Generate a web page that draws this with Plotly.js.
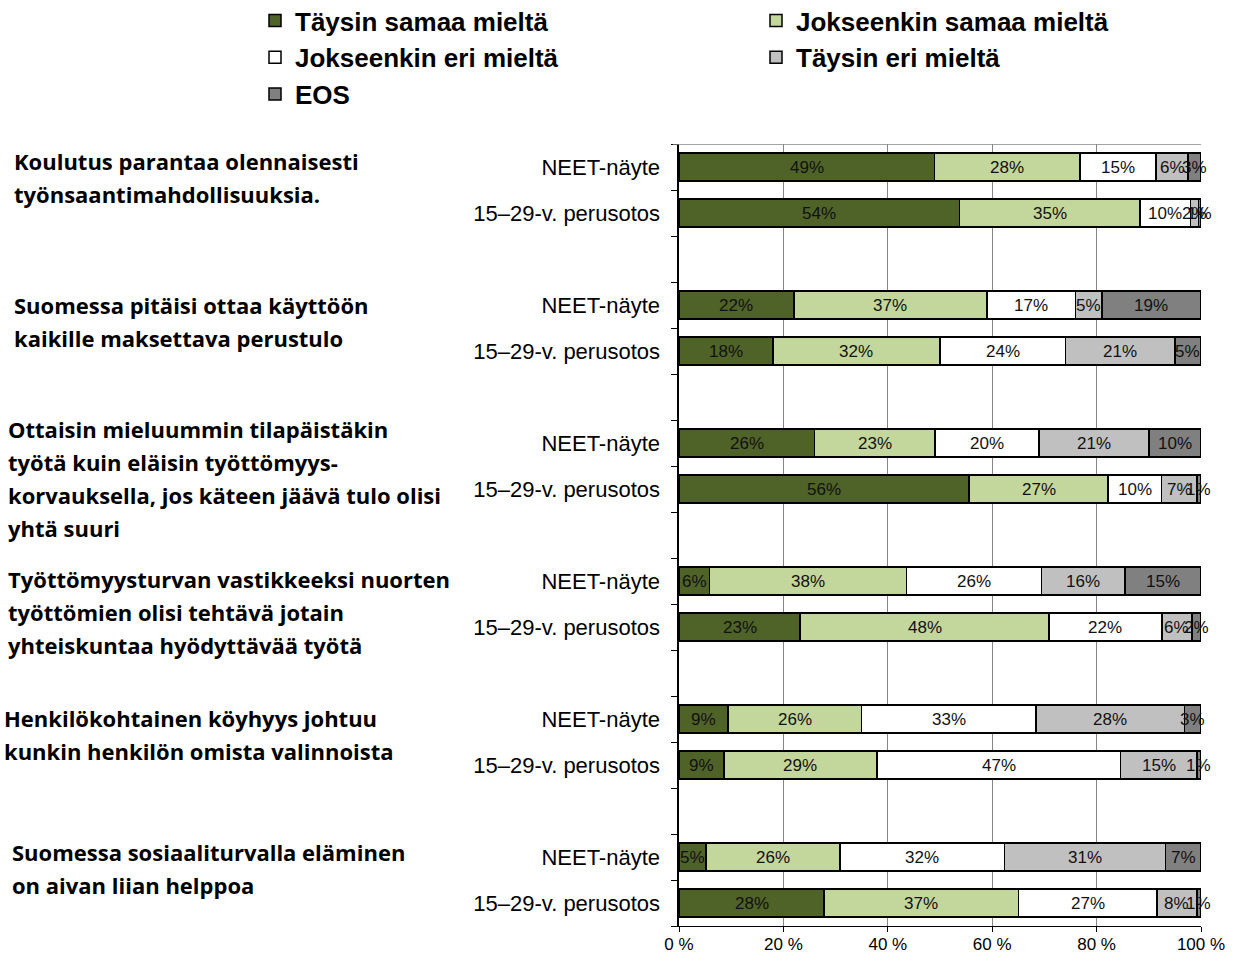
<!DOCTYPE html>
<html>
<head>
<meta charset="utf-8">
<script src="https://cdn.plot.ly/plotly-3.0.1.min.js"></script>
<style>html,body{margin:0;padding:0;background:#fff;}#chart{width:1234px;height:955px;}</style>
</head>
<body>
<div id="chart"></div>
<script>
// ---- data ----
const categories = ['NEET-näyte', '15–29-v. perusotos'];
const questions = [
  ['Koulutus parantaa olennaisesti', 'työnsaantimahdollisuuksia.'],
  ['Suomessa pitäisi ottaa käyttöön', 'kaikille maksettava perustulo'],
  ['Ottaisin mieluummin tilapäistäkin', 'työtä kuin eläisin työttömyys-', 'korvauksella, jos käteen jäävä tulo olisi', 'yhtä suuri'],
  ['Työttömyysturvan vastikkeeksi nuorten', 'työttömien olisi tehtävä jotain', 'yhteiskuntaa hyödyttävää työtä'],
  ['Henkilökohtainen köyhyys johtuu', 'kunkin henkilön omista valinnoista'],
  ['Suomessa sosiaaliturvalla eläminen', 'on aivan liian helppoa']
];
const seriesNames = ['Täysin samaa mieltä', 'Jokseenkin samaa mieltä', 'Jokseenkin eri mieltä', 'Täysin eri mieltä', 'EOS'];
// rows: Q1 NEET, Q1 perus, Q2 NEET, Q2 perus, ... (percent, estimated from bar lengths and labels)
const taysinSamaa     = [48.9, 53.7, 22, 18, 26, 55.6,  5.8, 23.2,  9.4,  8.6,  5.2, 27.8];
const jokseenkinSamaa = [27.9, 34.6, 37, 32, 23, 26.6, 37.8, 47.7, 25.6, 29.3, 25.6, 37.2];
const jokseenkinEri   = [14.6,  9.7, 17, 24, 20, 10.2, 25.8, 21.6, 33.4, 46.7, 31.6, 26.6];
const taysinEri       = [ 6.1,  1.5,  5, 21, 21,  6.8, 16.0,  5.8, 28.4, 14.6, 30.8,  7.6];
const eos             = [ 2.5,  0.5, 19,  5, 10,  0.8, 14.6,  1.7,  3.2,  0.8,  6.8,  0.8];
const xTicks = [0, 20, 40, 60, 80, 100];

// ---- styling / layout helpers ----
const seriesValues = [taysinSamaa, jokseenkinSamaa, jokseenkinEri, taysinEri, eos];
const colors = ['#4F6228', '#C3D69B', '#FFFFFF', '#C0C0C0', '#808080'];
const legendOf = ['legend', 'legend2', 'legend', 'legend2', 'legend'];
const nRows = taysinSamaa.length;
const yPos = [];
for (let i = 0; i < nRows; i++) yPos.push(3 * Math.floor(i / 2) + (i % 2) + 0.5);
const rowLabels = yPos.map((_, i) => categories[i % 2]);
const totalSlots = 3 * questions.length - 1;

const traces = seriesNames.map((name, s) => ({
  type: 'bar', orientation: 'h', name: name,
  x: seriesValues[s], y: yPos,
  width: 0.6,
  marker: {color: colors[s], line: {color: '#000', width: 1.5}},
  legend: legendOf[s], legendgroup: 'g' + s,
  hovertemplate: '%{x:.0f}%<extra>' + name + '</extra>'
}));
// dummy trace on yaxis2 to show tick marks at slot boundaries
traces.push({type: 'scatter', x: [null], y: [null], yaxis: 'y2', showlegend: false, hoverinfo: 'skip'});

const annotations = [];
// value labels at segment centers
for (let i = 0; i < nRows; i++) {
  let cum = 0;
  seriesValues.forEach(vals => {
    const v = vals[i];
    annotations.push({
      x: cum + v / 2, y: yPos[i], xref: 'x', yref: 'y',
      text: Math.round(v) + '%', showarrow: false,
      font: {family: 'Liberation Sans, Arial, sans-serif', size: 17, color: '#111'},
      xanchor: 'center', yanchor: 'middle'
    });
    cum += v;
  });
}
// question texts on the left (pixel placement constants)
const qTopPx = [161, 305, 429, 579, 718, 852];
const qLeftPx = [12, 12, 6, 6, 2, 10];
const plotL = 679, plotR = 1201, plotT = 144, plotB = 926;
const slotPx = (plotB - plotT) / totalSlots;
questions.forEach((lines, q) => {
  lines.forEach((line, k) => {
    annotations.push({
      x: (qLeftPx[q] - plotL) / (plotR - plotL), xref: 'paper',
      y: (qTopPx[q] + 33 * k - plotT) / slotPx, yref: 'y',
      text: line, showarrow: false, xanchor: 'left', yanchor: 'middle',
      font: {family: 'Open Sans, sans-serif', size: 22, color: '#000', weight: 700}
    });
  });
});

const legendFont = {family: 'Liberation Sans, Arial, sans-serif', size: 26, color: '#000', weight: 700};
const legTopY = (plotB + 3) / (plotB - plotT);
const layout = {
  width: 1234, height: 955,
  margin: {l: plotL, r: 1234 - plotR, t: plotT, b: 955 - plotB, autoexpand: false},
  paper_bgcolor: '#fff', plot_bgcolor: '#fff',
  barmode: 'stack',
  showlegend: true,
  legend: {x: (255 - plotL) / (plotR - plotL), xanchor: 'left', y: legTopY, yanchor: 'top',
           orientation: 'v', traceorder: 'normal', tracegroupgap: 1, font: legendFont, bgcolor: 'rgba(0,0,0,0)'},
  legend2: {x: (756 - plotL) / (plotR - plotL), xanchor: 'left', y: legTopY, yanchor: 'top',
            orientation: 'v', traceorder: 'normal', tracegroupgap: 1, font: legendFont, bgcolor: 'rgba(0,0,0,0)'},
  xaxis: {
    range: [0, 100], tickvals: xTicks, ticktext: xTicks.map(t => t + ' %'),
    showgrid: true, gridcolor: '#868686', gridwidth: 1,
    showline: true, linecolor: '#000', linewidth: 1,
    ticks: 'outside', ticklen: 5, tickcolor: '#000',
    ticklabelstandoff: -2,
    tickfont: {family: 'Liberation Sans, Arial, sans-serif', size: 17, color: '#000'},
    zeroline: false, fixedrange: true
  },
  yaxis: {
    range: [totalSlots, 0], tickvals: yPos, ticktext: rowLabels,
    ticks: '', showgrid: false, zeroline: false, showline: false,
    ticklabelstandoff: 18,
    tickfont: {family: 'Liberation Sans, Arial, sans-serif', size: 22, color: '#000'},
    fixedrange: true
  },
  yaxis2: {
    overlaying: 'y', side: 'left', range: [totalSlots, 0],
    tickvals: Array.from({length: totalSlots + 1}, (_, i) => i),
    showticklabels: false, ticks: 'outside', ticklen: 6, tickcolor: '#000',
    showline: true, linecolor: '#000', linewidth: 1.5, showgrid: false, zeroline: false, fixedrange: true
  },
  shapes: [{type: 'line', xref: 'paper', yref: 'y', x0: -0.012, x1: 1, y0: 0, y1: 0, line: {color: '#868686', width: 1.5}}],
  annotations: annotations
};

Plotly.newPlot('chart', traces, layout, {displayModeBar: false});
</script>
</body>
</html>
